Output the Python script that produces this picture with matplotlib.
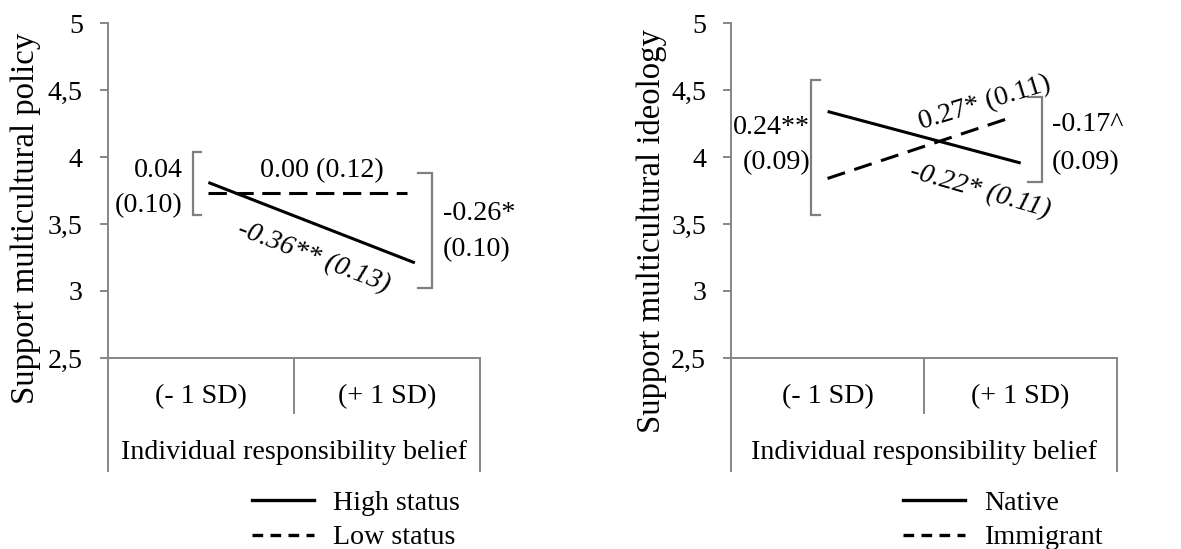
import matplotlib
matplotlib.use('Agg')
import matplotlib.pyplot as plt
from matplotlib.lines import Line2D

plt.rcParams['font.family'] = ['Liberation Serif', 'DejaVu Serif']
FS = 20.2
FS_YLAB = 23.6
GRAY = '#868686'

# data
categories = ['(- 1 SD)', '(+ 1 SD)']
group_label = 'Individual responsibility belief'
y_ticks = [2.5, 3, 3.5, 4, 4.5, 5]
y_tick_labels = ['2,5', '3', '3,5', '4', '4,5', '5']

high_x = [0.04, 1.15]
high_status = [3.81, 3.21]
low_x = [0.04, 1.11]
low_status = [3.73, 3.73]

native_x = [0.0, 1.0]
native = [4.34, 3.955]
immigrant_x = [0.0, 0.94]
immigrant = [3.84, 4.29]


def setup_axis(ax, ylabel, label_xy):
    ax.set_xlim(-0.5, 1.5)
    ax.set_ylim(2.5, 5)
    ax.set_yticks(y_ticks)
    ax.set_yticklabels(y_tick_labels, fontsize=FS)
    ax.set_xticks([])
    for side in ['top', 'right']:
        ax.spines[side].set_visible(False)
    for side in ['left', 'bottom']:
        ax.spines[side].set_color(GRAY)
        ax.spines[side].set_linewidth(1.4)
    ax.tick_params(axis='y', length=6, width=1.4, color=GRAY, pad=12)
    ax.set_ylabel(ylabel, fontsize=FS_YLAB)
    ax.yaxis.label.set_va('center')
    ax.yaxis.set_label_coords(*label_xy)

    # multi-level category axis below the plot
    tr = ax.get_xaxis_transform()
    ax.plot([-0.5, -0.5], [0, -0.337], transform=tr, color=GRAY, lw=1.4, clip_on=False)
    ax.plot([1.5, 1.5], [0, -0.337], transform=tr, color=GRAY, lw=1.4, clip_on=False)
    ax.plot([0.5, 0.5], [0, -0.164], transform=tr, color=GRAY, lw=1.4, clip_on=False)
    for i, c in enumerate(categories):
        ax.text(i, -0.116, c, transform=tr, ha='center', va='center', fontsize=FS)
    ax.text(0.5, -0.281, group_label, transform=tr, ha='center', va='center', fontsize=FS)


def bracket(ax, x_bar, x_arm, y0, y1):
    ax.plot([x_arm, x_bar, x_bar, x_arm], [y0, y0, y1, y1], color='#7f7f7f', lw=1.6,
            solid_joinstyle='miter')


def add_legend(ax, labels, xy):
    handles = [Line2D([], [], color='black', lw=2.4),
               Line2D([], [], color='black', lw=2.4, dashes=(3.2, 2.2))]
    ax.legend(handles, labels, loc='upper left', bbox_to_anchor=xy, frameon=False,
              fontsize=FS, handlelength=2.2, handletextpad=0.7, labelspacing=0.33,
              borderpad=0, borderaxespad=0)


fig = plt.figure(figsize=(11.81, 5.49), dpi=100)
ax1 = fig.add_axes([0.0914, 0.348, 0.315, 0.610])
ax2 = fig.add_axes([0.619, 0.348, 0.327, 0.610])

# left panel
setup_axis(ax1, 'Support multicultural policy', (-0.220, 0.418))
ax1.plot(high_x, high_status, color='black', lw=2.2, solid_capstyle='butt')
ax1.plot(low_x, low_status, color='black', lw=2.2, dashes=(6, 2.8))
bracket(ax1, -0.043, 0.0, 3.57, 4.04)
bracket(ax1, 1.242, 1.167, 3.02, 3.88)
ax1.text(-0.097, 3.90, '0.04', ha='right', va='center', fontsize=FS)
ax1.text(-0.097, 3.64, '(0.10)', ha='right', va='center', fontsize=FS)
ax1.text(0.65, 3.90, '0.00 (0.12)', ha='center', va='center', fontsize=FS)
ax1.text(1.30, 3.58, '-0.26*', ha='left', va='center', fontsize=FS)
ax1.text(1.30, 3.31, '(0.10)', ha='left', va='center', fontsize=FS)
ax1.text(0.607, 3.254, '-0.36** (0.13)', ha='center', va='center', fontsize=FS,
         style='italic', rotation=-21, rotation_mode='anchor')
add_legend(ax1, ['High status', 'Low status'], (0.387, -0.394))

# right panel
setup_axis(ax2, 'Support multicultural ideology', (-0.205, 0.379))
ax2.plot(native_x, native, color='black', lw=2.2, solid_capstyle='butt')
ax2.plot(immigrant_x, immigrant, color='black', lw=2.2, dashes=(6, 3.2))
bracket(ax2, -0.085, -0.039, 3.57, 4.575)
bracket(ax2, 1.111, 1.039, 3.81, 4.45)
ax2.text(-0.091, 4.224, '0.24**', ha='right', va='center', fontsize=FS)
ax2.text(-0.091, 3.955, '(0.09)', ha='right', va='center', fontsize=FS)
ax2.text(0.816, 4.40, '0.27* (0.11)', ha='center', va='center', fontsize=FS,
         rotation=17, rotation_mode='anchor')
ax2.text(0.79, 3.745, '-0.22* (0.11)', ha='center', va='center', fontsize=FS,
         style='italic', rotation=-16, rotation_mode='anchor')
ax2.text(1.163, 4.24, '-0.17^', ha='left', va='center', fontsize=FS)
ax2.text(1.163, 3.955, '(0.09)', ha='left', va='center', fontsize=FS)
add_legend(ax2, ['Native', 'Immigrant'], (0.446, -0.394))

fig.savefig('out.png', dpi=100)
